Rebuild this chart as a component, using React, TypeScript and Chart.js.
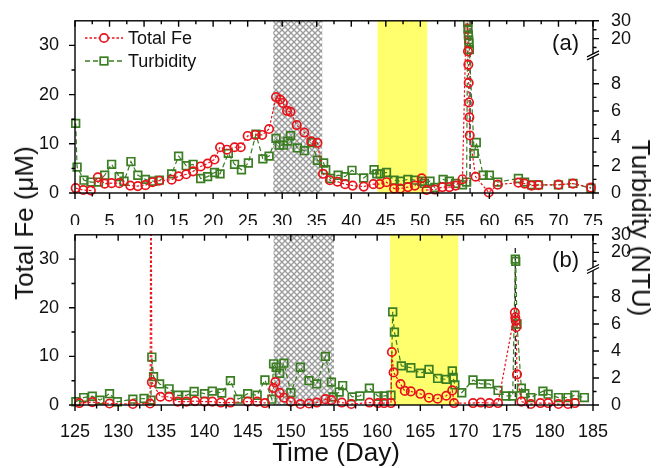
import React, { useEffect, useRef } from 'react';
import { Chart, registerables, LinearScale } from 'chart.js';

Chart.register(...registerables);

// ---------------- data ----------------
// Panel (a)
const feDayA = [0.1,1.2,2.3,3.3,4.3,5.3,6.4,8.0,9.1,10.2,11.2,12.2,14.0,15.0,16.1,17.1,18.2,19.2,20.2,21.0,22.0,23.1,24.0,25.0,26.1,27.1,28.1,29.1,29.7,30.1,30.7,31.2,32.1,33.2,34.2,35.1,35.9,36.9,38.0,39.1,40.2,41.8,43.2,44.1,45.1,46.2,47.1,48.2,49.2,50.2,50.9,52.1,53.2,54.2,55.1,56.1,56.85,56.9,56.95,57.0,57.05,57.1,57.15,58.0,59.9,61.2,64.2,65.1,66.1,67.1,70.0,72.1,74.7];
const feValA = [1.0,0.6,0.5,3.2,1.9,2.0,2.0,1.5,1.4,1.6,2.2,2.5,2.7,3.4,3.8,4.4,5.4,6.0,6.8,9.3,8.8,9.3,9.3,11.6,11.8,11.8,13.0,19.5,19.0,18.3,16.7,16.5,13.8,12.3,10.5,10.2,3.9,2.6,2.3,1.8,1.5,1.3,1.8,1.8,2.2,0.9,0.9,1.2,1.5,3.0,0.6,0.7,1.2,1.2,1.5,2.8,48,28.8,26.1,22.4,18.4,15.4,11.7,3.3,0.1,1.7,2.1,1.9,1.5,1.6,1.7,1.9,1.1];
const turbDayA = [0.1,0.3,1.3,2.3,3.4,4.3,5.3,6.4,7.1,8.1,9.1,10.2,11.3,12.2,14.0,15.0,16.1,17.1,18.2,19.2,20.2,21.0,22.2,23.1,24.1,25.1,26.2,27.2,28.1,29.1,29.6,30.2,30.8,31.2,32.2,33.2,34.3,35.1,36.0,36.3,37.0,38.1,39.1,40.1,41.8,43.3,43.7,44.2,45.1,46.2,47.1,48.2,49.2,50.2,50.6,51.4,52.1,53.3,54.2,55.1,56.1,56.7,56.85,56.9,56.95,57.0,57.05,57.1,57.8,58.1,59.1,60.0,61.2,64.2,65.1,66.1,67.1,70.0,72.1,74.7];
const turbValA = [5.1,1.9,0.94,0.8,0.8,1.3,2.1,1.2,0.86,2.3,1.3,1.0,0.86,0.94,1.4,2.7,2.0,2.1,1.06,1.2,1.5,1.4,2.9,2.1,1.7,2.2,4.3,2.5,2.7,4.0,3.5,3.5,3.8,4.2,3.3,3.1,3.7,2.4,2.2,1.7,1.06,1.3,1.2,1.66,1.1,1.7,1.4,1.4,1.5,0.94,0.86,1.0,0.94,0.86,0.7,0.86,0.4,1.0,0.86,0.7,0.6,0.8,29,25.4,22.1,19.3,17.4,13.8,2.9,3.7,1.3,1.3,0.8,1.06,0.8,0.6,0.6,0.6,0.7,0.35];
const eventDayA = [57.2, 57.2];
const eventValA = [0, 35];
const hatchA = [28.7, 35.8];
const yellowA = [43.8, 51.0];

// Panel (b)
const feDayB = [125.5,127.0,129.0,131.7,133.7,133.8,133.9,134.9,135.9,136.9,137.9,138.9,140.0,140.9,141.9,143.0,145.0,146.1,147.0,148.0,148.2,148.7,149.2,150.0,151.1,152.1,153.0,154.0,154.7,155.9,157.0,159.1,160.1,160.8,161.6,161.7,161.9,162.7,163.2,163.9,165.0,166.0,167.0,168.0,168.7,168.9,171.1,172.0,173.0,174.0,175.95,176.0,176.05,176.1,176.2,176.7,177.8,178.9,179.8,181.0,182.1,182.9];
const feValB = [0.4,0.6,0.3,0.2,0.3,60,4.7,1.7,1.7,0.7,0.7,0.8,0.7,0.7,0.5,0.5,0.7,0.7,0.4,3.5,4.7,2.5,1.5,0.7,0.2,0.3,0.5,1.2,1.0,0.5,0.2,0.5,0.4,0.4,0.4,10.9,6.7,4.3,2.9,2.8,2.3,1.5,1.3,1.9,3.0,0.4,0.4,0.5,0.4,0.4,19,18,17.3,16,6.3,0.7,0.2,0.4,0.4,0.2,0.2,0.4];
const turbDayB = [125.1,126.0,127.0,127.9,129.0,129.9,131.7,133.0,133.8,133.9,134.1,134.8,135.9,136.9,137.9,138.8,140.0,140.9,142.0,143.0,143.9,145.0,146.1,147.0,147.8,148.0,148.3,148.7,149.2,150.0,151.1,152.1,153.0,154.0,154.7,154.9,155.6,156.0,157.1,158.0,159.1,160.1,160.8,161.6,161.8,162.0,162.8,163.9,165.0,166.0,167.0,168.0,168.7,168.8,169.0,169.8,171.1,172.0,173.0,174.0,174.9,175.7,176.0,176.05,176.2,176.7,177.1,177.8,179.2,179.8,181.0,182.1,182.9,184.0];
const turbValB = [0.24,0.55,0.65,0.36,0.84,0.24,0.43,0.48,0.36,3.55,2.1,1.56,1.2,0.72,0.72,1.0,0.84,1.03,0.89,1.8,0.43,0.84,0.72,1.85,0.43,3.05,2.8,2.35,3.1,0.91,2.8,1.8,1.56,3.6,1.7,0.6,0.96,1.44,0.6,0.67,1.25,0.65,0.67,0.72,6.9,5.4,2.9,2.76,2.35,2.64,1.97,1.9,2.52,2.04,1.49,0.91,1.85,1.56,1.56,1.08,0.67,0.67,16.2,14.9,6.0,1.25,0.84,0.55,1.03,0.8,0.55,0.55,0.72,0.55];
const eventDayB = [176.0, 176.0];
const eventValB = [0, 32.4];
const hatchB = [148.0, 155.0];
const yellowB = [161.5, 169.4];

// Axis ticks
const xTicksA = [0,5,10,15,20,25,30,35,40,45,50,55,60,65,70,75];
const xTicksB = [125,130,135,140,145,150,155,160,165,170,175,180,185];
const feTicks = [0,10,20,30];
const feMinor = [5,15,25];
const turbTicks = [0,2,4,6,8,20,30];
const turbMinor = [1,3,5,7,9,15,25];

// ---------------- style ----------------
const RED = '#e8141c';
const GREEN = '#3a7d22';
const YELLOW = '#ffff6e';
const FONT = '"Liberation Sans", Arial, Helvetica, sans-serif';
const TXT = '#111';

// ---------------- broken right axis ----------------
const T_BREAK = 10;
const T_MAX = 30;
const T_LOW_FRAC = 0.793;
function turbToDec(v: number): number {
  if (v <= T_BREAK) return (v / T_BREAK) * T_LOW_FRAC;
  return T_LOW_FRAC + ((v - T_BREAK) / (T_MAX - T_BREAK)) * (1 - T_LOW_FRAC);
}
function decToTurb(d: number): number {
  if (d <= T_LOW_FRAC) return (d / T_LOW_FRAC) * T_BREAK;
  return T_BREAK + ((d - T_LOW_FRAC) / (1 - T_LOW_FRAC)) * (T_MAX - T_BREAK);
}
class BrokenScale extends LinearScale {
  static id = 'brokenLinear';
  getPixelForValue(value: any) {
    if (value === null || value === undefined || isNaN(value)) return NaN;
    return this.getPixelForDecimal(turbToDec(value));
  }
  getValueForPixel(pixel: number) {
    return decToTurb(this.getDecimalForPixel(pixel));
  }
}
Chart.register(BrokenScale as any);

let hatchTile: HTMLCanvasElement | null = null;
function getHatch(ctx: CanvasRenderingContext2D) {
  if (!hatchTile) {
    hatchTile = document.createElement('canvas');
    hatchTile.width = 6; hatchTile.height = 6;
    const g = hatchTile.getContext('2d')!;
    g.strokeStyle = '#9c9c9c';
    g.lineWidth = 1.4;
    g.beginPath();
    g.moveTo(-1, -1); g.lineTo(7, 7);
    g.moveTo(7, -1); g.lineTo(-1, 7);
    g.stroke();
  }
  return ctx.createPattern(hatchTile, 'repeat')!;
}

type PanelDef = {
  name: string;
  xMin: number; xMax: number;
  xTicks: number[];
  feDay: number[]; feVal: number[];
  turbDay: number[]; turbVal: number[];
  eventDay: number[]; eventVal: number[];
  hatch: number[]; yellow: number[];
  label: string; labelY: number;
  legend: boolean;
  height: number; padTop: number; xAxisH: number; xPad: number;
};

function minorOf(ticks: number[]) {
  const out: number[] = [];
  for (let i = 0; i < ticks.length - 1; i++) out.push((ticks[i] + ticks[i + 1]) / 2);
  return out;
}

function makePlugin(p: PanelDef) {
  return {
    id: 'panel_' + p.name,
    beforeDatasetsDraw(chart: any) {
      const { ctx, chartArea: a, scales } = chart;
      const xs = scales.x;
      ctx.save();
      const y1 = xs.getPixelForValue(p.yellow[0]);
      const y2 = xs.getPixelForValue(p.yellow[1]);
      ctx.fillStyle = YELLOW;
      ctx.fillRect(y1, a.top, y2 - y1, a.bottom - a.top);
      const h1 = xs.getPixelForValue(p.hatch[0]);
      const h2 = xs.getPixelForValue(p.hatch[1]);
      ctx.fillStyle = '#ffffff';
      ctx.fillRect(h1, a.top, h2 - h1, a.bottom - a.top);
      ctx.fillStyle = getHatch(ctx);
      ctx.fillRect(h1, a.top, h2 - h1, a.bottom - a.top);
      ctx.restore();
    },
    afterDatasetsDraw(chart: any) {
      const { ctx, chartArea: a, scales } = chart;
      const xs = scales.x, yf = scales.yFe, yt = scales.yT;
      ctx.save();
      ctx.strokeStyle = '#000';
      ctx.lineWidth = 1.4;
      ctx.setLineDash([]);
      ctx.strokeRect(a.left, a.top, a.right - a.left, a.bottom - a.top);
      ctx.beginPath();
      const seg = (x1: number, y1: number, x2: number, y2: number) => { ctx.moveTo(x1, y1); ctx.lineTo(x2, y2); };
      for (const v of p.xTicks) {
        const px = xs.getPixelForValue(v);
        seg(px, a.bottom, px, a.bottom + 6);
        seg(px, a.top, px, a.top + 6);
      }
      for (const v of minorOf(p.xTicks)) {
        const px = xs.getPixelForValue(v);
        seg(px, a.bottom, px, a.bottom + 3.5);
        seg(px, a.top, px, a.top + 3.5);
      }
      for (const v of feTicks) { const py = yf.getPixelForValue(v); seg(a.left - 6, py, a.left, py); }
      for (const v of feMinor) { const py = yf.getPixelForValue(v); seg(a.left - 3.5, py, a.left, py); }
      for (const v of turbTicks) { const py = yt.getPixelForValue(v); seg(a.right, py, a.right + 6, py); }
      for (const v of turbMinor) { const py = yt.getPixelForValue(v); seg(a.right, py, a.right + 3.5, py); }
      ctx.stroke();

      // axis break marks on the right axis
      const pb = yt.getPixelForValue(10.9);
      const r = a.right;
      ctx.fillStyle = '#fff';
      ctx.beginPath();
      ctx.moveTo(r - 6, pb + 2); ctx.lineTo(r + 6, pb - 4);
      ctx.lineTo(r + 6, pb - 1); ctx.lineTo(r - 6, pb + 5);
      ctx.closePath(); ctx.fill();
      ctx.lineWidth = 1.2;
      ctx.beginPath();
      ctx.moveTo(r - 6, pb + 2); ctx.lineTo(r + 6, pb - 4);
      ctx.moveTo(r - 6, pb + 5); ctx.lineTo(r + 6, pb - 1);
      ctx.stroke();

      // panel label
      ctx.fillStyle = TXT;
      ctx.font = `22px ${FONT}`;
      ctx.textAlign = 'right';
      ctx.textBaseline = 'middle';
      ctx.fillText(p.label, 579, p.labelY);

      if (p.legend) {
        const lx1 = 85, lx2 = 123, mx = 104, tx = 128;
        const ly1 = 38, ly2 = 61;
        ctx.lineWidth = 1.3;
        ctx.strokeStyle = RED;
        ctx.setLineDash([2.5, 2]);
        ctx.beginPath(); ctx.moveTo(lx1, ly1); ctx.lineTo(lx2, ly1); ctx.stroke();
        ctx.setLineDash([]);
        ctx.fillStyle = '#fff';
        ctx.lineWidth = 1.7;
        ctx.beginPath(); ctx.arc(mx, ly1, 4.2, 0, Math.PI * 2); ctx.fill(); ctx.stroke();
        ctx.lineWidth = 1.3;
        ctx.strokeStyle = GREEN;
        ctx.setLineDash([5, 3]);
        ctx.beginPath(); ctx.moveTo(lx1, ly2); ctx.lineTo(lx2, ly2); ctx.stroke();
        ctx.setLineDash([]);
        ctx.lineWidth = 1.7;
        ctx.fillRect(mx - 3.8, ly2 - 3.8, 7.6, 7.6);
        ctx.strokeRect(mx - 3.8, ly2 - 3.8, 7.6, 7.6);
        ctx.fillStyle = TXT;
        ctx.font = `18px ${FONT}`;
        ctx.textAlign = 'left';
        ctx.fillText('Total Fe', tx, ly1 + 1);
        ctx.fillText('Turbidity', tx, ly2 + 1);
      }
      ctx.restore();
    },
  };
}

function pts(days: number[], vals: number[]) {
  return days.map((d, i) => ({ x: d, y: vals[i] }));
}

function buildConfig(p: PanelDef): any {
  const tickFont = { family: FONT, size: 18 };
  return {
    type: 'line',
    data: {
      datasets: [
        {
          label: 'Total Fe',
          data: pts(p.feDay, p.feVal),
          yAxisID: 'yFe',
          borderColor: RED,
          borderWidth: 1.2,
          borderDash: [2.5, 2],
          pointStyle: 'circle',
          pointRadius: 4.2,
          pointBorderWidth: 1.7,
          pointBorderColor: RED,
          pointBackgroundColor: 'rgba(0,0,0,0)',
          tension: 0,
          clip: { left: 6, right: 6, top: 0, bottom: 6 },
        },
        {
          label: 'Turbidity',
          data: pts(p.turbDay, p.turbVal),
          yAxisID: 'yT',
          borderColor: GREEN,
          borderWidth: 1.2,
          borderDash: [5, 3],
          pointStyle: 'rect',
          pointRadius: 5.4,
          pointBorderWidth: 1.7,
          pointBorderColor: GREEN,
          pointBackgroundColor: 'rgba(0,0,0,0)',
          tension: 0,
          clip: { left: 6, right: 6, top: 0, bottom: 6 },
        },
        {
          label: 'event',
          data: pts(p.eventDay, p.eventVal),
          yAxisID: 'yFe',
          borderColor: '#222',
          borderWidth: 1.3,
          borderDash: [5, 3],
          pointRadius: 0,
        },
      ],
    },
    options: {
      responsive: false,
      animation: false,
      devicePixelRatio: 1,
      events: [],
      layout: { padding: { top: p.padTop, left: 0, right: 0, bottom: 0 } },
      plugins: { legend: { display: false }, tooltip: { enabled: false } },
      scales: {
        x: {
          type: 'linear',
          min: p.xMin,
          max: p.xMax,
          afterBuildTicks: (s: any) => { s.ticks = p.xTicks.map((v) => ({ value: v })); },
          afterFit: (s: any) => { s.height = p.xAxisH; },
          ticks: { autoSkip: false, maxRotation: 0, padding: p.xPad, font: tickFont, color: TXT, callback: (v: any) => String(v) },
          grid: { display: false },
          border: { display: false },
        },
        yFe: {
          type: 'linear',
          position: 'left',
          min: 0,
          max: 35,
          afterBuildTicks: (s: any) => { s.ticks = feTicks.map((v) => ({ value: v })); },
          afterFit: (s: any) => { s.width = 75; },
          ticks: { autoSkip: false, padding: 8, font: tickFont, color: TXT, callback: (v: any) => String(v) },
          grid: { display: false },
          border: { display: false },
        },
        yT: {
          type: 'brokenLinear',
          position: 'right',
          min: 0,
          max: 30,
          afterBuildTicks: (s: any) => { s.ticks = turbTicks.map((v) => ({ value: v })); },
          afterFit: (s: any) => { s.width = 64; },
          ticks: { autoSkip: false, padding: 10, font: tickFont, color: TXT, callback: (v: any) => String(v) },
          grid: { display: false },
          border: { display: false },
        },
      },
    },
    plugins: [makePlugin(p)],
  };
}

const panelA: PanelDef = {
  name: 'a', xMin: 0, xMax: 75, xTicks: xTicksA,
  feDay: feDayA, feVal: feValA, turbDay: turbDayA, turbVal: turbValA,
  eventDay: eventDayA, eventVal: eventValA, hatch: hatchA, yellow: yellowA,
  label: '(a)', labelY: 44, legend: true,
  height: 225, padTop: 19, xAxisH: 32, xPad: 10,
};
const panelB: PanelDef = {
  name: 'b', xMin: 125, xMax: 185, xTicks: xTicksB,
  feDay: feDayB, feVal: feValB, turbDay: turbDayB, turbVal: turbValB,
  eventDay: eventDayB, eventVal: eventValB, hatch: hatchB, yellow: yellowB,
  label: '(b)', labelY: 47, legend: false,
  height: 254, padTop: 16, xAxisH: 63, xPad: 8,
};

function PanelChart({ p, top }: { p: PanelDef; top: number }) {
  const ref = useRef<HTMLCanvasElement>(null);
  useEffect(() => {
    const chart = new Chart(ref.current as HTMLCanvasElement, buildConfig(p));
    return () => chart.destroy();
  }, []);
  return (
    <canvas
      ref={ref}
      width={657}
      height={p.height}
      style={{ position: 'absolute', left: 0, top, width: 657, height: p.height }}
    />
  );
}

const titleStyle: React.CSSProperties = {
  position: 'absolute',
  fontFamily: FONT,
  fontSize: 26,
  color: TXT,
  whiteSpace: 'nowrap',
  lineHeight: 1,
};

export default function App() {
  return (
    <div style={{ position: 'absolute', left: 0, top: 0, width: 657, height: 468, background: '#fff', overflow: 'hidden' }}>
      <PanelChart p={panelA} top={0} />
      <PanelChart p={panelB} top={214} />
      <div style={{ ...titleStyle, left: 24, top: 223, transform: 'translate(-50%, -50%) rotate(-90deg)' }}>Total Fe (μM)</div>
      <div style={{ ...titleStyle, left: 641, top: 228, transform: 'translate(-50%, -50%) rotate(90deg)' }}>Turbidity (NTU)</div>
      <div style={{ ...titleStyle, left: 336, top: 452, transform: 'translate(-50%, -50%)' }}>Time (Day)</div>
    </div>
  );
}
